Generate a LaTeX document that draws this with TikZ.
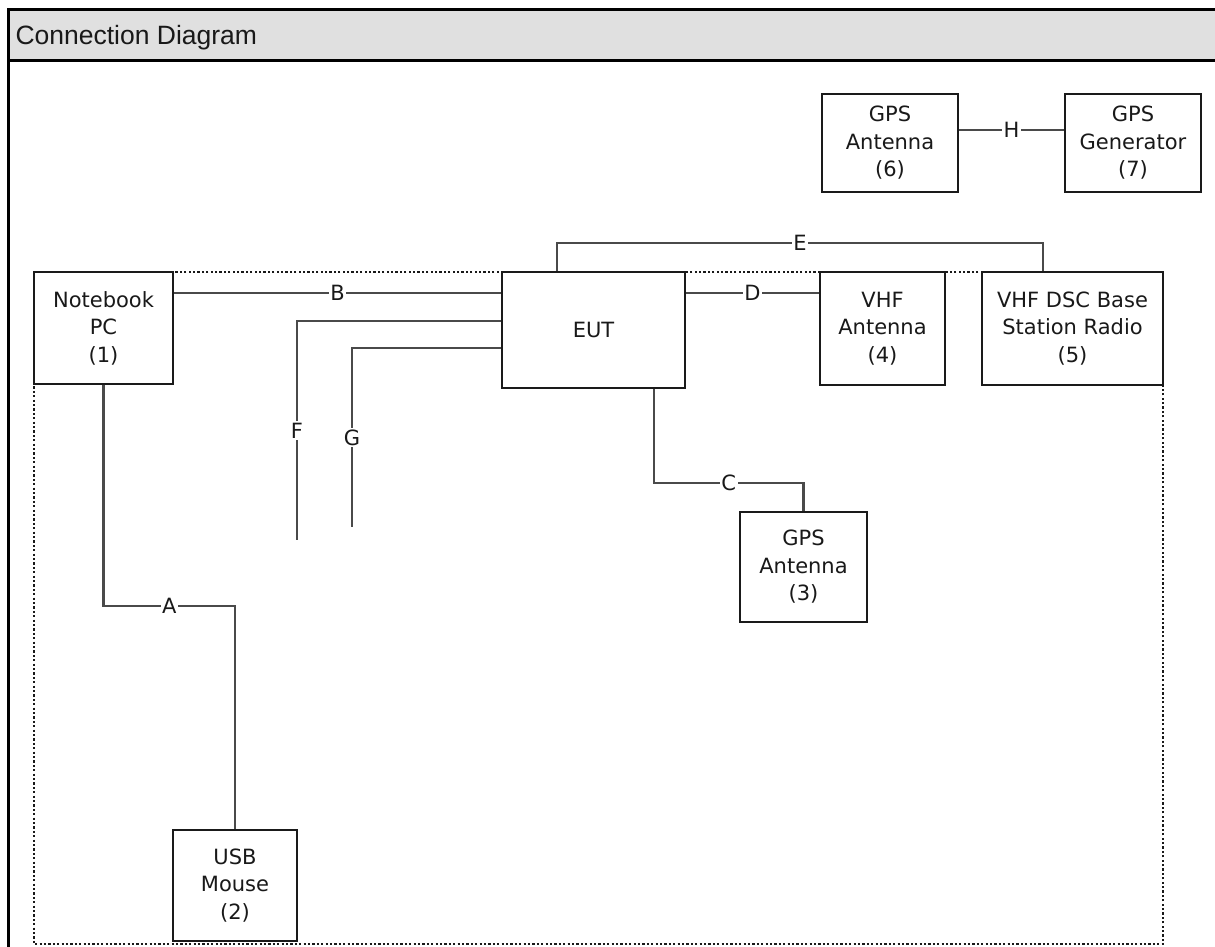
\documentclass[tikz,border=0pt]{standalone}
\usepackage{fontspec}
\setmainfont{Liberation Sans}
\newfontfamily\boxfont{DejaVu Sans}
\definecolor{titlegray}{HTML}{E0E0E0}
\definecolor{boxline}{HTML}{1A1A1A}
\definecolor{wiregray}{HTML}{4A4A4A}
\begin{document}
\begin{tikzpicture}[x=1pt,y=-1pt,
  box/.style={draw=boxline, line width=2.8pt, fill=white, align=center, inner sep=0pt,
    font=\boxfont\fontsize{21}{27.5}\selectfont, text=black!90},
  wire/.style={draw=wiregray, line width=2.2pt},
  lbl/.style={fill=white, inner sep=1.5pt, text=black!90, font=\boxfont\fontsize{21}{24}\selectfont},
  frame/.style={draw=black, line width=3pt},
  dotbox/.style={draw=black!90, line width=2.6pt, dash pattern=on 2.2pt off 2.2pt}]
\useasboundingbox (0,0) rectangle (1215,947);
% outer frame and title bar
\fill[titlegray] (8,10) rectangle (1215,61);
\draw[frame] (1216,10) -- (8,10) -- (8,948);
\draw[frame] (8,61) -- (1216,61);
\node[anchor=base west, font=\fontsize{26.5}{30}\selectfont, text=black!90] (title) at (12,45) {Connection Diagram};
% dotted test area
\draw[dotbox] (34,272) rectangle (1163,944);
% boxes
\node[box, minimum width=139pt, minimum height=112pt] (pc) at (103.5,328) {Notebook\\PC\\(1)};
\node[box, minimum width=183pt, minimum height=116pt] (eut) at (593.5,330) {EUT};
\node[box, minimum width=125pt, minimum height=113pt] (vhf) at (882.5,328.5) {VHF\\Antenna\\(4)};
\node[box, minimum width=181pt, minimum height=113pt] (dsc) at (1072.5,328.5) {VHF DSC Base\\Station Radio\\(5)};
\node[box, minimum width=136pt, minimum height=98pt] (gpsa) at (890,143) {GPS\\Antenna\\(6)};
\node[box, minimum width=136pt, minimum height=98pt] (gpsg) at (1133,143) {GPS\\Generator\\(7)};
\node[box, minimum width=127pt, minimum height=110pt] (gpsb) at (803.5,567) {GPS\\Antenna\\(3)};
\node[box, minimum width=124pt, minimum height=111pt] (mouse) at (235,885.5) {USB\\Mouse\\(2)};
% free ends
\coordinate (fend) at (297,540);
\coordinate (gend) at (352,527);
% connectors
\draw[wire] (pc.south) -- (pc.south |- 0,606) -- node[lbl] {A} (mouse.north |- 0,606) -- (mouse.north);
\draw[wire] (pc.east |- 0,293) -- node[lbl] {B} (eut.west |- 0,293);
\draw[wire] (eut.west |- 0,321) -- (fend |- 0,321) -- node[lbl] {F} (fend);
\draw[wire] (eut.west |- 0,348) -- (gend |- 0,348) -- node[lbl] {G} (gend);
\draw[wire] (eut.south -| 654,0) -- (654,483) -- node[lbl] {C} (gpsb.north |- 0,483) -- (gpsb.north);
\draw[wire] (eut.east |- 0,293) -- node[lbl] {D} (vhf.west |- 0,293);
\draw[wire] (eut.north -| 557,0) -- (557,243) -- node[lbl] {E} (1043,243) -- (dsc.north -| 1043,0);
\draw[wire] (gpsa.east |- 0,130) -- node[lbl] {H} (gpsg.west |- 0,130);
\end{tikzpicture}
\end{document}
